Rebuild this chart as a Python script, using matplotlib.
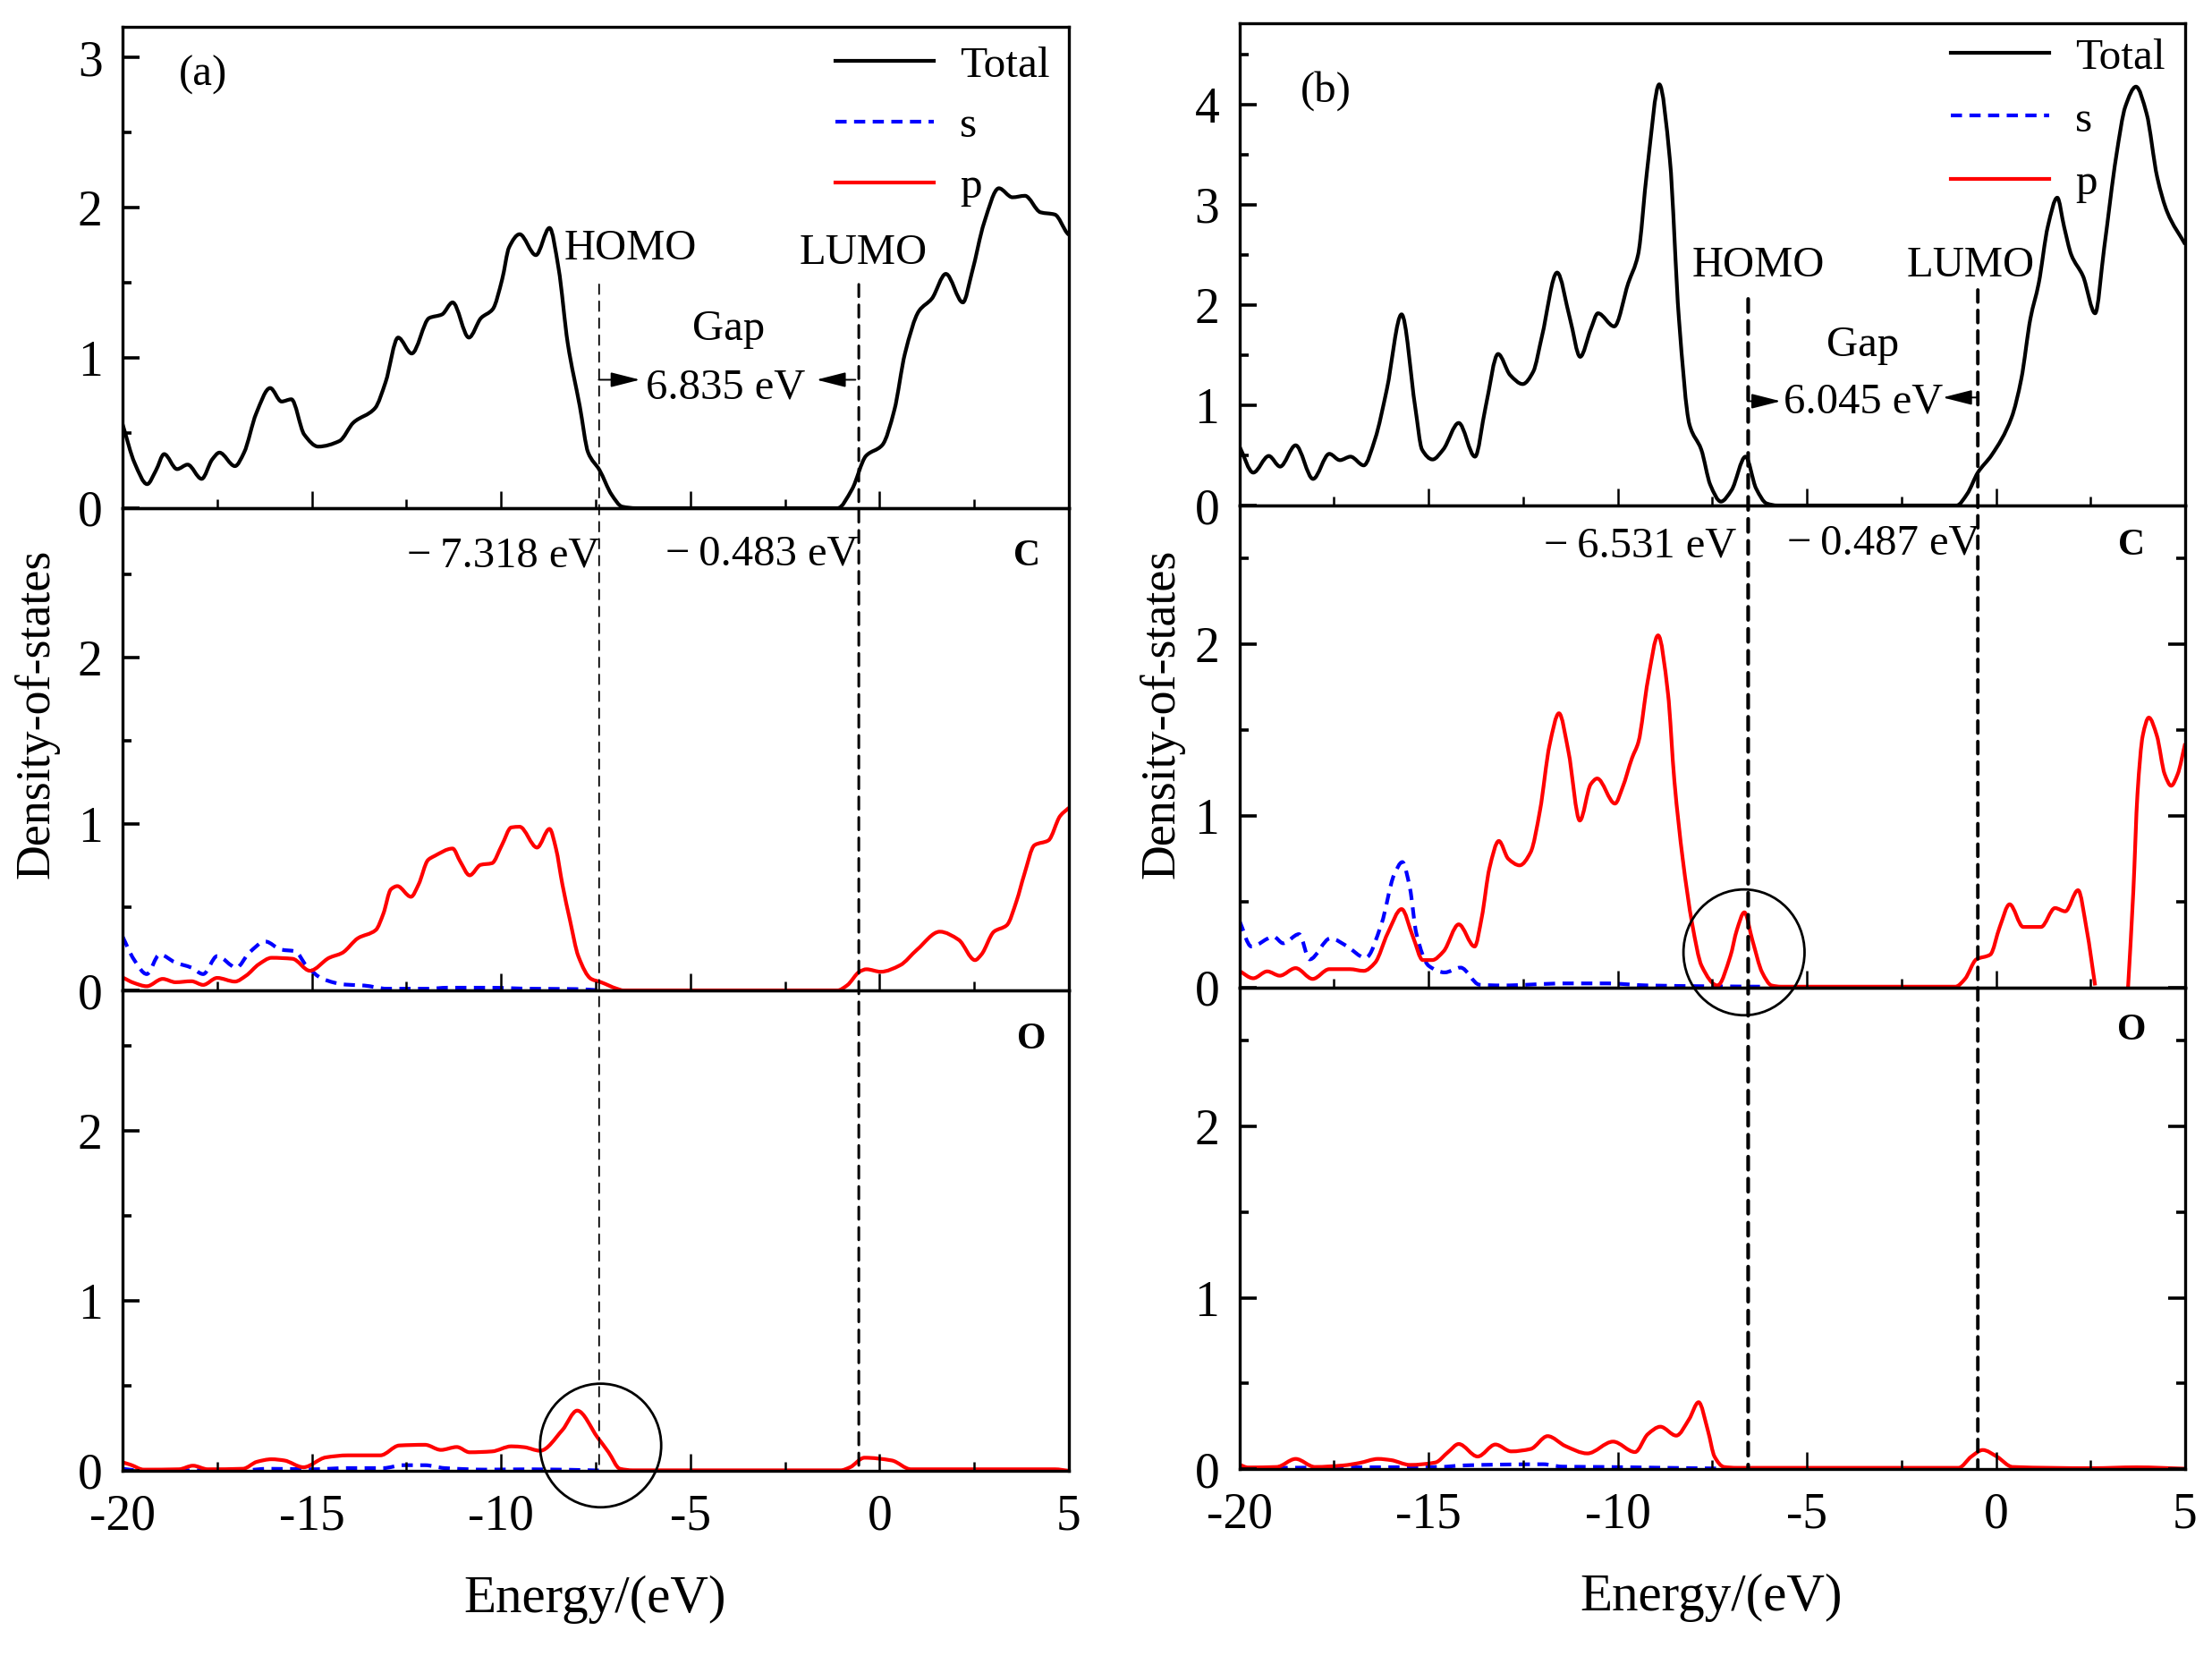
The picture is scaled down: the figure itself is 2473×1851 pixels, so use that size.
import matplotlib
matplotlib.use('Agg')
import matplotlib.pyplot as plt
from matplotlib.patches import ConnectionPatch, Ellipse, PathPatch
from matplotlib.path import Path
from matplotlib.ticker import MultipleLocator
import numpy as np

plt.rcParams['font.family'] = ['Liberation Serif', 'DejaVu Serif']
plt.rcParams['axes.unicode_minus'] = False

W, H = 2473, 1851

# panel (a), total
a_total_e = [-20, -19.68, -19.35, -19.12, -18.9, -18.56, -18.28, -17.91, -17.63, -17.44, -17.03, -16.79, -16.47, -16.1, -15.8, -15.54, -15.2, -14.83, -14.27, -13.9, -13.33, -13.05, -12.72, -12.36, -11.9, -11.56, -11.28, -10.85, -10.53, -10.22, -9.97, -9.79, -9.51, -9.08, -8.72, -8.48, -8.24, -7.92, -7.7, -7.4, -7.08, -6.8, -6.43, -1.11, -0.73, -0.36, 0.07, 0.39, 0.67, 1.04, 1.38, 1.75, 2.2, 2.44, 2.76, 3.15, 3.51, 3.84, 4.25, 4.63, 4.96, 5]
a_total = [0.56, 0.30, 0.16, 0.25, 0.36, 0.26, 0.29, 0.195, 0.325, 0.37, 0.28, 0.37, 0.63, 0.80, 0.71, 0.725, 0.49, 0.41, 0.447, 0.57, 0.666, 0.84, 1.136, 1.03, 1.266, 1.29, 1.37, 1.136, 1.266, 1.325, 1.525, 1.736, 1.824, 1.685, 1.866, 1.595, 1.10, 0.678, 0.37, 0.254, 0.09, 0.01, 0, 0, 0.125, 0.348, 0.42, 0.654, 1.03, 1.313, 1.395, 1.56, 1.37, 1.57, 1.90, 2.13, 2.07, 2.08, 1.97, 1.955, 1.83, 1.82]

# panel (a), C
a_c_p_e = [-20, -19.7, -19.36, -18.94, -18.6, -18.18, -17.87, -17.5, -17.03, -16.74, -16.4, -16.06, -15.51, -15.05, -14.54, -14.2, -13.78, -13.31, -13.11, -12.91, -12.74, -12.38, -12.18, -11.93, -11.76, -11.28, -11.08, -10.83, -10.54, -10.24, -9.98, -9.73, -9.51, -9.05, -8.72, -8.55, -8.38, -8.18, -7.96, -7.62, -7.36, -6.94, -6.77, -1.11, -0.86, -0.52, -0.35, 0.03, 0.54, 0.99, 1.59, 2.09, 2.52, 2.69, 3.02, 3.36, 3.62, 3.82, 4.09, 4.46, 4.77, 5]
a_c_p = [0.078, 0.045, 0.025, 0.069, 0.049, 0.055, 0.033, 0.075, 0.053, 0.088, 0.157, 0.196, 0.19, 0.118, 0.196, 0.225, 0.314, 0.363, 0.461, 0.608, 0.627, 0.563, 0.637, 0.784, 0.808, 0.853, 0.775, 0.692, 0.755, 0.765, 0.873, 0.98, 0.984, 0.859, 0.971, 0.853, 0.637, 0.422, 0.206, 0.069, 0.049, 0.01, 0, 0, 0.03, 0.114, 0.127, 0.112, 0.151, 0.245, 0.353, 0.304, 0.182, 0.216, 0.353, 0.392, 0.539, 0.696, 0.873, 0.902, 1.049, 1.098]
a_c_s_e = [-20, -19.7, -19.36, -19.02, -18.6, -18.18, -17.87, -17.5, -16.99, -16.66, -16.23, -15.81, -15.44, -15.14, -14.71, -14.12, -13.61, -13.02, -11.93, -11.42, -10.32, -9.22, -8.04, -7.36]
a_c_s = [0.324, 0.186, 0.098, 0.216, 0.167, 0.137, 0.098, 0.206, 0.137, 0.225, 0.294, 0.245, 0.235, 0.147, 0.069, 0.035, 0.029, 0.01, 0.01, 0.016, 0.016, 0.01, 0.008, 0]

# panel (a), O
a_o_p_e = [-20, -19.78, -19.44, -18.51, -18.14, -17.75, -16.82, -16.45, -16.06, -15.73, -15.22, -14.63, -14.04, -13.19, -12.69, -12.01, -11.59, -11.17, -10.83, -10.24, -9.73, -9.39, -8.97, -8.38, -7.99, -7.45, -7.16, -6.86, -6.52, -1.03, -0.78, -0.4, 0.32, 0.83, 4.63, 5]
a_o_p = [0.05, 0.035, 0.007, 0.009, 0.03, 0.009, 0.012, 0.053, 0.068, 0.061, 0.021, 0.079, 0.091, 0.091, 0.149, 0.153, 0.123, 0.14, 0.109, 0.114, 0.144, 0.139, 0.118, 0.24, 0.354, 0.196, 0.109, 0.012, 0.003, 0.003, 0.021, 0.077, 0.061, 0.009, 0.009, 0]
a_o_s_e = [-20, -19.6, -16.82, -16.15, -14.97, -14.04, -13.11, -12.6, -12.01, -11.5, -10.4, -9.22, -7.36]
a_o_s = [0.012, 0.003, 0.003, 0.012, 0.009, 0.016, 0.016, 0.033, 0.033, 0.016, 0.007, 0.009, 0.002]

# panel (b), total
b_total_e = [-20, -19.63, -19.22, -18.92, -18.51, -18.05, -17.62, -17.34, -17.06, -16.71, -16.41, -16.1, -15.71, -15.35, -15.17, -14.89, -14.61, -14.2, -13.77, -13.49, -13.16, -12.84, -12.51, -12.23, -12.0, -11.6, -11.26, -10.99, -10.71, -10.52, -10.09, -9.72, -9.46, -9.22, -8.9, -8.62, -8.38, -8.1, -7.79, -7.55, -7.27, -6.99, -6.62, -6.34, -6.06, -5.78, -1.04, -0.76, -0.48, -0.11, 0.41, 0.67, 0.91, 1.13, 1.37, 1.62, 1.8, 1.99, 2.3, 2.62, 2.86, 3.18, 3.42, 3.7, 3.98, 4.26, 4.53, 5]
b_total = [0.593, 0.328, 0.494, 0.388, 0.60, 0.265, 0.515, 0.452, 0.487, 0.40, 0.664, 1.158, 1.906, 0.981, 0.558, 0.459, 0.558, 0.823, 0.487, 0.981, 1.511, 1.30, 1.211, 1.335, 1.688, 2.323, 1.864, 1.483, 1.758, 1.917, 1.786, 2.217, 2.50, 3.347, 4.20, 3.453, 1.864, 0.805, 0.558, 0.205, 0.039, 0.152, 0.487, 0.169, 0.02, 0, 0, 0.116, 0.328, 0.505, 0.875, 1.264, 1.864, 2.217, 2.782, 3.07, 2.78, 2.50, 2.288, 1.917, 2.57, 3.488, 3.98, 4.177, 3.91, 3.276, 2.923, 2.605]

# panel (b), C  (the p curve leaves the frame between 2.65 and 3.49)
b_c_p_e = [-20, -19.63, -19.26, -18.93, -18.51, -18.06, -17.62, -17.08, -16.71, -16.41, -16.08, -15.71, -15.41, -15.15, -14.9, -14.6, -14.2, -13.78, -13.59, -13.39, -13.14, -12.89, -12.59, -12.3, -12.05, -11.8, -11.55, -11.3, -11.0, -10.71, -10.54, -10.07, -9.87, -9.62, -9.45, -9.2, -8.93, -8.67, -8.5, -8.28, -8.03, -7.78, -7.36, -7.02, -6.85, -6.65, -6.44, -6.18, -5.93, -5.68, -1.07, -0.82, -0.52, -0.15, 0.1, 0.36, 0.72, 1.19, 1.56, 1.83, 2.17, 2.4, 2.62, 3.0, 3.49, 3.63, 3.74, 3.88, 4.04, 4.25, 4.46, 4.63, 4.8, 5]
b_c_p = [0.098, 0.055, 0.095, 0.07, 0.114, 0.051, 0.108, 0.108, 0.098, 0.146, 0.316, 0.458, 0.297, 0.161, 0.161, 0.212, 0.369, 0.24, 0.411, 0.694, 0.855, 0.751, 0.713, 0.789, 1.035, 1.413, 1.599, 1.376, 0.974, 1.186, 1.219, 1.073, 1.167, 1.338, 1.432, 1.792, 2.053, 1.716, 1.205, 0.751, 0.373, 0.127, 0.013, 0.184, 0.335, 0.439, 0.278, 0.089, 0.013, 0.006, 0.006, 0.051, 0.165, 0.193, 0.354, 0.486, 0.354, 0.354, 0.464, 0.445, 0.568, 0.335, 0.013, np.nan, 0, 0.562, 1.13, 1.47, 1.574, 1.47, 1.243, 1.177, 1.243, 1.423]
b_c_s_e = [-20, -19.68, -19.09, -18.84, -18.42, -18.14, -17.59, -17.17, -16.66, -16.24, -15.91, -15.69, -15.49, -15.32, -14.99, -14.57, -14.15, -13.65, -13.06, -11.38, -10.29, -9.2, -7.36, -6.18]
b_c_s = [0.392, 0.24, 0.297, 0.259, 0.312, 0.165, 0.288, 0.244, 0.174, 0.373, 0.657, 0.732, 0.581, 0.316, 0.127, 0.089, 0.117, 0.017, 0.013, 0.025, 0.025, 0.013, 0.008, 0.006]

# panel (b), O
b_o_p_e = [-20, -19.77, -19.01, -18.51, -18.0, -17.25, -16.83, -16.33, -15.99, -15.49, -14.82, -14.48, -14.2, -13.7, -13.23, -12.81, -12.3, -11.85, -11.38, -10.8, -10.12, -9.54, -9.2, -8.87, -8.45, -8.11, -7.86, -7.61, -7.44, -7.19, -6.85, -0.99, -0.65, -0.35, 0.02, 0.44, 2.54, 3.71, 5]
b_o_p = [0.026, 0.009, 0.012, 0.059, 0.012, 0.021, 0.035, 0.059, 0.052, 0.024, 0.038, 0.099, 0.146, 0.073, 0.143, 0.103, 0.117, 0.192, 0.134, 0.091, 0.16, 0.099, 0.204, 0.247, 0.195, 0.291, 0.39, 0.221, 0.073, 0.012, 0.007, 0.007, 0.073, 0.111, 0.073, 0.012, 0.005, 0.01, 0.002]
b_o_s_e = [-20, -18.93, -16.58, -14.73, -14.06, -13.06, -11.97, -11.47, -10.38, -8.7, -7.27]
b_o_s = [0.003, 0.007, 0.01, 0.012, 0.021, 0.026, 0.028, 0.014, 0.012, 0.007, 0.003]

x_ticks = [-20, -15, -10, -5, 0, 5]
x_tick_labels = ['-20', '-15', '-10', '-5', '0', '5']

BLUE = '#0000ff'
RED = '#ff0000'
S_DASH = (0, (3.0, 2.0))
LW = 3.0


def fx(px):
    return px / W


def fy(py):
    return 1 - py / H


def make_axes(fig, left, right, top, bottom, ymax, y_ticks, right_ticks=False, last=False):
    ax = fig.add_axes([fx(left), fy(bottom), (right - left) / W, (bottom - top) / H])
    ax.patch.set_visible(False)
    ax.set_xlim(-20, 5)
    ax.set_ylim(0, ymax)
    ax.set_xticks(x_ticks)
    ax.xaxis.set_minor_locator(MultipleLocator(2.5))
    ax.set_yticks(y_ticks)
    ax.yaxis.set_minor_locator(MultipleLocator(0.5))
    ax.tick_params(axis='x', which='major', direction='in', length=14, width=1.8)
    ax.tick_params(axis='x', which='minor', direction='in', length=7, width=1.8)
    ax.tick_params(axis='y', which='major', direction='in', length=14, width=2.6, right=right_ticks, pad=16)
    ax.tick_params(axis='y', which='minor', direction='in', length=7, width=2.6, right=right_ticks)
    ax.tick_params(axis='y', labelsize=40)
    if last:
        ax.set_xticklabels(x_tick_labels, fontsize=40)
        ax.tick_params(axis='x', which='major', pad=18)
    else:
        ax.set_xticklabels([])
    for sp in ax.spines.values():
        sp.set_linewidth(2.4)
    return ax


def slopes(x, y):
    # monotone tangents, so the curve stays between the read values
    h = np.diff(x)
    d = np.diff(y) / h
    m = np.zeros(len(x))
    m[0], m[-1] = d[0], d[-1]
    for i in range(1, len(x) - 1):
        if d[i - 1] * d[i] > 0:
            w1 = 2 * h[i] + h[i - 1]
            w2 = h[i] + 2 * h[i - 1]
            m[i] = (w1 + w2) / (w1 / d[i - 1] + w2 / d[i])
    return m


def curve_path(x, y):
    m = slopes(x, y)
    verts = [(x[0], y[0])]
    codes = [Path.MOVETO]
    for i in range(len(x) - 1):
        dx = (x[i + 1] - x[i]) / 3
        verts += [(x[i] + dx, y[i] + m[i] * dx), (x[i + 1] - dx, y[i + 1] - m[i + 1] * dx), (x[i + 1], y[i + 1])]
        codes += [Path.CURVE4] * 3
    return Path(verts, codes)


def curve(ax, e, v, color='k', ls='-'):
    e = np.array(e, dtype=float)
    v = np.array(v, dtype=float)
    # a nan in the values breaks the curve in two
    breaks = np.where(np.isnan(v))[0]
    for e_part, v_part in zip(np.split(e, breaks), np.split(v, breaks)):
        keep = ~np.isnan(v_part)
        patch = PathPatch(curve_path(e_part[keep], v_part[keep]), fill=False, ec=color, ls=ls, lw=LW,
                          joinstyle='round')
        ax.add_patch(patch)


def label_px(fig, x, y, s, ha='center', size=35, **kw):
    if kw.get('rotation') == 90:
        x += 3
    else:
        y += 4
    fig.text(fx(x), fy(y), s, ha=ha, va='center', fontsize=size, **kw)


def gap_arrow(ax, start, end, y):
    ax.annotate('', xy=(end, y), xytext=(start, y),
                arrowprops=dict(arrowstyle='-|>,head_length=0.67,head_width=0.17', color='k', lw=1.4,
                                mutation_scale=30, shrinkA=0, shrinkB=0))


def dashed_level(fig, ax_top, ax_bot, e, v_top, lw, dash):
    line = ConnectionPatch(xyA=(e, v_top), coordsA=ax_top.transData,
                           xyB=(e, 0), coordsB=ax_bot.transData,
                           color='k', lw=lw, ls=(0, dash), zorder=5)
    fig.add_artist(line)


def legend_entries(ax):
    ax.plot([], [], color='k', lw=LW, label='Total')
    ax.plot([], [], color=BLUE, ls=S_DASH, lw=LW, label='s')
    ax.plot([], [], color=RED, lw=LW, label='p')


def main():
    fig = plt.figure(figsize=(W / 100, H / 100), dpi=100)

    # left column
    a1 = make_axes(fig, 137, 1195, 30, 568, 3.205, [0, 1, 2, 3])
    a2 = make_axes(fig, 137, 1195, 568, 1107, 2.90, [0, 1, 2])
    a3 = make_axes(fig, 137, 1195, 1107, 1644, 2.826, [0, 1, 2], last=True)

    curve(a1, a_total_e, a_total)
    legend_entries(a1)
    curve(a2, a_c_s_e, a_c_s, BLUE, S_DASH)
    curve(a2, a_c_p_e, a_c_p, RED)
    curve(a3, a_o_s_e, a_o_s, BLUE, S_DASH)
    curve(a3, a_o_p_e, a_o_p, RED)

    # right column
    b1 = make_axes(fig, 1385.5, 2443, 26.5, 565, 4.805, [0, 1, 2, 3, 4])
    b2 = make_axes(fig, 1385.5, 2443, 565, 1104, 2.81, [0, 1, 2], right_ticks=True)
    b3 = make_axes(fig, 1385.5, 2443, 1104, 1642, 2.81, [0, 1, 2], right_ticks=True, last=True)

    curve(b1, b_total_e, b_total)
    legend_entries(b1)
    curve(b2, b_c_s_e, b_c_s, BLUE, S_DASH)
    curve(b2, b_c_p_e, b_c_p, RED)
    curve(b3, b_o_s_e, b_o_s, BLUE, S_DASH)
    curve(b3, b_o_p_e, b_o_p, RED)

    for ax, x_px, y_px, spacing in [(a1, 934, 51, 0.47), (b1, 2181, 42, 0.52)]:
        ax.legend(loc='upper left', bbox_to_anchor=(fx(x_px), fy(y_px)), bbox_transform=fig.transFigure,
                  frameon=False, fontsize=35.5, borderpad=0, borderaxespad=0,
                  handlelength=2.24, handletextpad=0.58, labelspacing=spacing)

    # HOMO / LUMO levels
    dashed_level(fig, a1, a3, -7.41, 1.49, 1.3, (6, 4.5))
    dashed_level(fig, a1, a3, -0.55, 1.49, 2.2, (4.5, 3))
    dashed_level(fig, b1, b3, -6.55, 2.06, 3.0, (3.5, 2.4))
    dashed_level(fig, b1, b3, -0.48, 2.15, 2.8, (3.5, 2.4))

    gap_arrow(a1, -7.42, -6.33, 0.855)
    gap_arrow(a1, -0.64, -1.67, 0.855)
    gap_arrow(b1, -6.56, -5.69, 1.04)
    gap_arrow(b1, -0.48, -1.41, 1.077)

    # circled states
    a3.add_patch(Ellipse((-7.37, 0.149), 3.2, 0.727, fill=False, ec='k', lw=2, clip_on=False, zorder=6))
    b2.add_patch(Ellipse((-6.66, 0.206), 3.2, 0.733, fill=False, ec='k', lw=2, clip_on=False, zorder=6))

    label_px(fig, 227, 80, '(a)')
    label_px(fig, 705, 274, 'HOMO')
    label_px(fig, 965, 279, 'LUMO')
    label_px(fig, 815, 364, 'Gap')
    label_px(fig, 811, 429, '6.835 eV')
    label_px(fig, 670, 618, '\u2212\u20097.318 eV', ha='right')
    label_px(fig, 959, 616, '\u2212\u20090.483 eV', ha='right')
    label_px(fig, 1148, 618, 'C', size=30, fontweight='bold')
    label_px(fig, 1153, 1158, 'O', size=30, fontweight='bold')
    label_px(fig, 665, 1784, 'Energy/(eV)', size=42.5)
    label_px(fig, 38, 798, 'Density-of-states', size=38.8, rotation=90)

    label_px(fig, 1482, 98, '(b)')
    label_px(fig, 1966, 293, 'HOMO')
    label_px(fig, 2203, 293, 'LUMO')
    label_px(fig, 2083, 382, 'Gap')
    label_px(fig, 2083, 445, '6.045 eV')
    label_px(fig, 1941, 606, '\u2212\u20096.531 eV', ha='right')
    label_px(fig, 2214, 604, '\u2212\u20090.487 eV', ha='right')
    label_px(fig, 2383, 606, 'C', size=30, fontweight='bold')
    label_px(fig, 2383, 1148, 'O', size=30, fontweight='bold')
    label_px(fig, 1913, 1782, 'Energy/(eV)', size=42.5)
    label_px(fig, 1296, 798, 'Density-of-states', size=38.8, rotation=90)

    fig.savefig('out.png', dpi=100)
    plt.close(fig)


if __name__ == '__main__':
    main()
